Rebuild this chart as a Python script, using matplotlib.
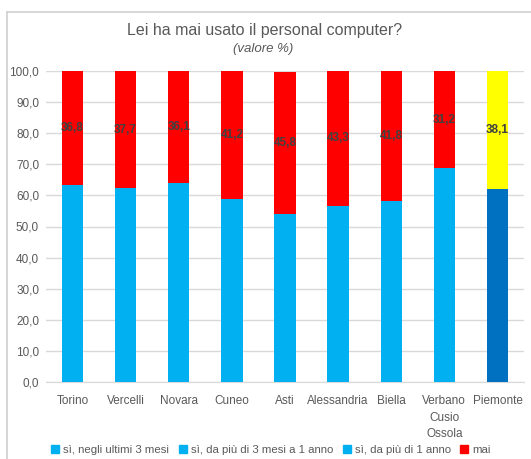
import matplotlib
matplotlib.use("Agg")
import matplotlib.pyplot as plt
from matplotlib.lines import Line2D
from matplotlib.patches import Patch
import numpy as np

plt.rcParams['font.family'] = ['Liberation Sans', 'DejaVu Sans']

categories = ["Torino", "Vercelli", "Novara", "Cuneo", "Asti", "Alessandria",
              "Biella", "Verbano\nCusio\nOssola", "Piemonte"]
si_ultimi_3_mesi = [63.2, 62.3, 63.9, 58.8, 54.0, 56.7, 58.2, 68.8, 61.9]
si_3mesi_1anno = [0, 0, 0, 0, 0, 0, 0, 0, 0]
si_oltre_1anno = [0, 0, 0, 0, 0, 0, 0, 0, 0]
mai = [36.8, 37.7, 36.1, 41.2, 45.8, 43.3, 41.8, 31.2, 38.1]
y_ticks = [0, 10, 20, 30, 40, 50, 60, 70, 80, 90, 100]
series_names = ["sì, negli ultimi 3 mesi", "sì, da più di 3 mesi a 1 anno",
                "sì, da più di 1 anno", "mai"]

BLUE = "#00B0F0"
DARKBLUE = "#0070C0"
RED = "#FF0000"
YELLOW = "#FFFF00"
TXT = "#595959"

fig = plt.figure(figsize=(5.31, 4.59), dpi=100)
ax = fig.add_axes([46/531, 1-382/459, 478/531, 311/459])

x = np.arange(len(categories))
w = 0.40
c1 = [BLUE]*(len(categories)-1) + [DARKBLUE]
c4 = [RED]*(len(categories)-1) + [YELLOW]
b1 = np.array(si_ultimi_3_mesi)
b2 = b1 + np.array(si_3mesi_1anno)
b3 = b2 + np.array(si_oltre_1anno)
ax.bar(x, si_ultimi_3_mesi, w, color=c1, zorder=2)
ax.bar(x, si_3mesi_1anno, w, bottom=b1, color=BLUE, zorder=2)
ax.bar(x, si_oltre_1anno, w, bottom=b2, color=BLUE, zorder=2)
bars = ax.bar(x, mai, w, bottom=b3, color=c4, zorder=2)
for xi, bot, v in zip(x, b3, mai):
    ax.text(xi, bot + v/2, f"{v:.1f}".replace(".", ","), ha="center", va="center",
            fontsize=8.5, fontweight="bold", color="#404040", zorder=3)

ax.set_xlim(-0.5, len(categories)-0.5)
ax.set_ylim(0, 100)
ax.set_yticks(y_ticks)
ax.set_yticklabels([f"{t:.1f}".replace(".", ",") for t in y_ticks])
ax.set_xticks(x)
ax.set_xticklabels(categories, linespacing=1.5, va="top")
ax.tick_params(axis="both", length=0, labelsize=8.5, labelcolor=TXT)
ax.tick_params(axis="x", pad=9.5)
ax.tick_params(axis="y", pad=5)
ax.grid(axis="y", color="#D9D9D9", linewidth=1, zorder=0)
for s in ["top", "right", "left"]:
    ax.spines[s].set_visible(False)
ax.spines["bottom"].set_color("#D9D9D9")
ax.spines["bottom"].set_zorder(1)

fig.text(265/531, 1-30/459, "Lei ha mai usato il personal computer?", ha="center",
         va="center", fontsize=11.5, color=TXT)
fig.text(263/531, 1-49/459, "(valore %)", ha="center", va="center", fontsize=9.5,
         style="italic", color=TXT)

handles = [Patch(color=BLUE), Patch(color=BLUE), Patch(color=BLUE), Patch(color=RED)]
fig.legend(handles, series_names, loc="center", bbox_to_anchor=(271/531, 1-450/459),
           ncol=4, frameon=False, fontsize=8.2, labelcolor=TXT, handlelength=0.7,
           handleheight=0.7, handletextpad=0.35, columnspacing=0.85)

fig.add_artist(Line2D([7/531, 7/531], [0, 1-12/459], transform=fig.transFigure,
                      color="#D0D0D0", linewidth=1.2))
fig.add_artist(Line2D([7/531, 1], [1-12/459, 1-12/459], transform=fig.transFigure,
                      color="#D0D0D0", linewidth=1.2))

fig.savefig("out.png", dpi=100)
